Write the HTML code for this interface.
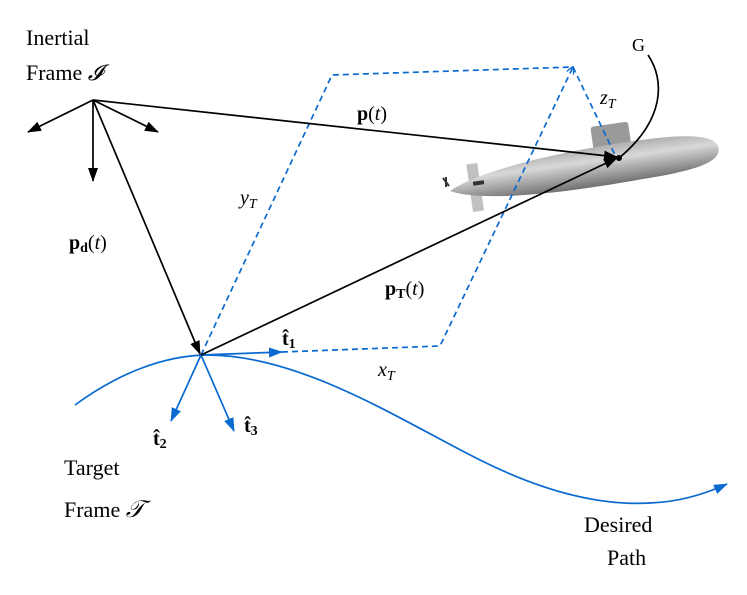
<!DOCTYPE html>
<html><head><meta charset="utf-8"><style>
html,body{margin:0;padding:0;background:#fff;}
svg{display:block;}
text{font-family:"Liberation Serif",serif;fill:#000;}
</style></head><body>
<svg width="747" height="595" viewBox="0 0 747 595" xmlns="http://www.w3.org/2000/svg">
<defs>
<marker id="ak" markerWidth="14" markerHeight="12" refX="13" refY="6" orient="auto" markerUnits="userSpaceOnUse" viewBox="0 0 14 12"><path d="M0,1 L14,6 L0,11 z" fill="#000"/></marker>
<marker id="ab" markerWidth="14" markerHeight="12" refX="13" refY="6" orient="auto" markerUnits="userSpaceOnUse" viewBox="0 0 14 12"><path d="M0,1 L14,6 L0,11 z" fill="#0a6ad0"/></marker>
<marker id="abs" markerWidth="8" markerHeight="8" refX="7" refY="4" orient="auto" markerUnits="userSpaceOnUse" viewBox="0 0 8 8"><path d="M0,0 L8,4 L0,8" fill="none" stroke="#0a6ad0" stroke-width="1.3"/></marker>
<linearGradient id="sub" x1="0" y1="0" x2="0" y2="1">
<stop offset="0" stop-color="#b0b0b0"/><stop offset="0.35" stop-color="#d8d8d8"/><stop offset="0.7" stop-color="#a0a0a0"/><stop offset="1" stop-color="#707070"/></linearGradient>
</defs>

<!-- submarine -->
<g transform="rotate(-8 585 168)">
<rect x="468" y="148" width="11" height="48" fill="#c0c0c0"/>
<rect x="596" y="128" width="38" height="24" rx="3" fill="#9a9a9a"/>
<path d="M448,172 C480,156 560,148 640,148 C690,148 720,153 720,167 C720,182 690,186 640,187 C560,190 480,188 448,172 Z" fill="url(#sub)"/>
<rect x="472" y="166" width="11" height="4" fill="#333"/>
</g>
<path d="M443,178 l6,8 M446,187 l0,-10" stroke="#333" stroke-width="2"/>

<!-- dashed blue lines -->
<g stroke="#0a6ad0" stroke-width="1.7" stroke-dasharray="6,4" fill="none">
<path d="M201,355 L332,75 L573,67"/>
<path d="M282,352 L440,346 L573,67" marker-end="url(#abs)"/>
<path d="M573,67 L615,155"/>
</g>

<!-- desired path -->
<path d="M75,405 C120,372 165,356 205,355 C300,354 400,420 480,460 C560,500 615,505 650,503 C680,502 705,494 727,484" fill="none" stroke="#0a6ad0" stroke-width="1.7" marker-end="url(#ab)"/>

<!-- target frame axes -->
<g stroke="#0a6ad0" stroke-width="1.7">
<line x1="201" y1="355" x2="282" y2="352" marker-end="url(#ab)"/>
<line x1="201" y1="355" x2="171" y2="421" marker-end="url(#ab)"/>
<line x1="201" y1="355" x2="234" y2="431" marker-end="url(#ab)"/>
</g>

<!-- black vectors -->
<g stroke="#000" stroke-width="1.7">
<line x1="93" y1="100" x2="28" y2="132" marker-end="url(#ak)"/>
<line x1="93" y1="100" x2="158" y2="132" marker-end="url(#ak)"/>
<line x1="93" y1="100" x2="93" y2="181" marker-end="url(#ak)"/>
<line x1="93" y1="100" x2="617" y2="157" marker-end="url(#ak)"/>
<line x1="93" y1="100" x2="200" y2="354" marker-end="url(#ak)"/>
<line x1="201" y1="355" x2="617" y2="158" marker-end="url(#ak)"/>
</g>
<path d="M648,55 C665,80 665,120 619,158" fill="none" stroke="#000" stroke-width="1.7"/>
<circle cx="619" cy="158" r="3" fill="#000"/>

<!-- labels -->
<text x="26" y="45" font-size="22">Inertial</text>
<text x="26" y="80" font-size="22">Frame <tspan font-style="italic">𝓘</tspan></text>
<text x="632" y="51" font-size="18">G</text>
<text x="600" y="104" font-size="20" font-style="italic">z<tspan font-size="14" dy="4">T</tspan></text>
<text x="240" y="204" font-size="20" font-style="italic">y<tspan font-size="14" dy="4">T</tspan></text>
<text x="378" y="376" font-size="20" font-style="italic">x<tspan font-size="14" dy="4">T</tspan></text>
<text x="357" y="120" font-size="20"><tspan font-weight="bold">p</tspan>(<tspan font-style="italic">t</tspan>)</text>
<text x="69" y="249" font-size="20"><tspan font-weight="bold">p<tspan font-size="14" dy="3">d</tspan></tspan><tspan dy="-3">(</tspan><tspan font-style="italic">t</tspan>)</text>
<text x="385" y="295" font-size="20"><tspan font-weight="bold">p<tspan font-size="14" dy="3">T</tspan></tspan><tspan dy="-3">(</tspan><tspan font-style="italic">t</tspan>)</text>
<text x="282" y="345" font-size="20" font-weight="bold">t̂<tspan font-size="14" dy="3">1</tspan></text>
<text x="153" y="445" font-size="20" font-weight="bold">t̂<tspan font-size="14" dy="3">2</tspan></text>
<text x="244" y="432" font-size="20" font-weight="bold">t̂<tspan font-size="14" dy="3">3</tspan></text>
<text x="64" y="475" font-size="22">Target</text>
<text x="64" y="517" font-size="22">Frame <tspan font-style="italic" font-size="24">𝒯</tspan></text>
<text x="584" y="532" font-size="22">Desired</text>
<text x="607" y="565" font-size="22">Path</text>
</svg>
</body></html>
